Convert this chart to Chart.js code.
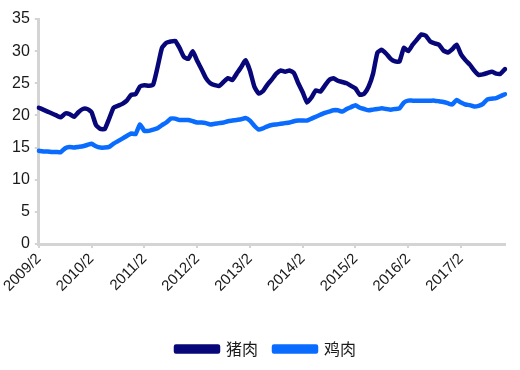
<!DOCTYPE html>
<html>
<head>
<meta charset="utf-8">
<script src="https://cdn.jsdelivr.net/npm/chart.js@4.4.1/dist/chart.umd.min.js"></script>
<style>
  html, body { margin: 0; padding: 0; background: #ffffff; }
  #wrap { width: 520px; height: 370px; }
</style>
</head>
<body>
<div id="wrap"><canvas id="c" width="520" height="370"></canvas></div>
<script>
// Monthly series, 2009/2 .. 2017/12
const startYear = 2009;
const startMonth = 2;
const categories = [];
for (let i = 0; i < 107; i++) {
  const m = startMonth - 1 + i;
  categories.push((startYear + Math.floor(m / 12)) + '/' + ((m % 12) + 1));
}
const tickLabels = ['2009/2','2010/2','2011/2','2012/2','2013/2','2014/2','2015/2','2016/2','2017/2'];

const seriesNames = ['猪肉', '鸡肉'];

const pork = [
  21.2, 20.9, 20.6, 20.3, 20.0, 19.7, 20.3, 20.2, 19.8, 20.5, 21.0, 21.0,
  20.5, 18.5, 17.9, 17.9, 19.5, 21.2, 21.5, 21.8, 22.3, 23.2, 23.3, 24.5,
  24.7, 24.6, 24.8, 27.5, 30.5, 31.3, 31.5, 31.6, 30.5, 29.1, 28.8, 30.0,
  28.5, 27.2, 25.8, 25.0, 24.7, 24.6, 25.2, 25.8, 25.5, 26.5, 27.5, 28.6,
  27.0, 24.5, 23.4, 23.8, 24.8, 25.6, 26.5, 27.0, 26.8, 27.0, 26.6, 25.0,
  23.6, 22.0, 22.8, 23.9, 23.7, 24.6, 25.5, 25.8, 25.4, 25.2, 25.0, 24.6,
  24.2, 23.2, 23.4, 24.5, 26.5, 29.8, 30.2, 29.6, 28.8, 28.4, 28.4, 30.5,
  30.0, 31.0, 31.8, 32.6, 32.4, 31.5, 31.2, 31.0, 30.1, 29.8, 30.3, 31.0,
  29.5, 28.6, 27.9, 27.0, 26.3, 26.4, 26.6, 26.8, 26.5, 26.5, 27.2
];

const chicken = [
  14.5, 14.4, 14.4, 14.3, 14.3, 14.3, 14.9, 15.1, 15.0, 15.1, 15.2, 15.4,
  15.6, 15.2, 15.0, 15.0, 15.1, 15.6, 16.0, 16.4, 16.8, 17.2, 17.1, 18.6,
  17.6, 17.6, 17.8, 18.0, 18.5, 18.9, 19.5, 19.5, 19.3, 19.3, 19.3, 19.1,
  18.9, 18.9, 18.8, 18.6, 18.7, 18.8, 18.9, 19.1, 19.2, 19.3, 19.4, 19.6,
  19.2, 18.4, 17.8, 18.0, 18.3, 18.5, 18.6, 18.7, 18.8, 18.9, 19.1, 19.2,
  19.2, 19.2, 19.5, 19.8, 20.1, 20.4, 20.6, 20.8, 20.8, 20.6, 21.0, 21.3,
  21.6, 21.2, 21.0, 20.8, 20.9, 21.0, 21.1, 21.0, 20.9, 21.0, 21.1, 22.0,
  22.3, 22.3, 22.3, 22.3, 22.3, 22.3, 22.3, 22.2, 22.1, 21.9, 21.7, 22.4,
  22.0, 21.7, 21.6, 21.4, 21.5, 21.8, 22.5, 22.6, 22.7, 23.0, 23.3
];

const porkColor = '#07077a';
const chickenColor = '#0a6cff';
const axisColor = '#d4d4d4';
const textColor = '#1a1a1a';

const legendShift = {
  id: 'legendShift',
  afterLayout(chart) {
    const lg = chart.legend;
    if (!lg) return;
    const dx = 10;
    lg.left += dx; lg.right += dx;
    if (lg.legendHitBoxes) lg.legendHitBoxes.forEach(h => { h.left += dx; });
  }
};

new Chart(document.getElementById('c'), {
  type: 'line',
  data: {
    labels: categories,
    datasets: [
      { label: seriesNames[0], data: pork, borderColor: porkColor, backgroundColor: porkColor,
        borderWidth: 4.5, pointRadius: 0, tension: 0.15, borderCapStyle: 'round', borderJoinStyle: 'round' },
      { label: seriesNames[1], data: chicken, borderColor: chickenColor, backgroundColor: chickenColor,
        borderWidth: 4.5, pointRadius: 0, tension: 0.15, borderCapStyle: 'round', borderJoinStyle: 'round' }
    ]
  },
  plugins: [legendShift],
  options: {
    responsive: false,
    animation: false,
    layout: { padding: { top: 19, right: 15, left: 7, bottom: 3 } },
    plugins: {
      tooltip: { enabled: false },
      legend: {
        position: 'bottom',
        labels: {
          boxWidth: 42, boxHeight: 5, padding: 16,
          color: textColor,
          font: { family: '"Noto Sans CJK SC", sans-serif', size: 16 }
        }
      }
    },
    scales: {
      x: {
        type: 'category',
        offset: false,
        border: { display: true, color: axisColor, width: 3 },
        grid: {
          drawOnChartArea: false, drawTicks: true, tickLength: 4, lineWidth: 2,
          color: (ctx) => (tickLabels.includes(categories[ctx.index]) ? axisColor : 'rgba(0,0,0,0)')
        },
        ticks: {
          autoSkip: false, maxRotation: 45, minRotation: 45, padding: 2,
          color: textColor,
          font: { family: '"Liberation Sans", Arial, sans-serif', size: 15 },
          callback: function (val, idx) {
            const lab = categories[idx];
            return tickLabels.includes(lab) ? lab : '';
          }
        },
        afterFit: function (scale) { scale.height = 81; }
      },
      y: {
        min: 0, max: 35,
        border: { display: true, color: axisColor, width: 3 },
        grid: { drawOnChartArea: false, drawTicks: true, tickLength: 4, lineWidth: 2, color: axisColor },
        ticks: {
          stepSize: 5, padding: 5,
          color: textColor,
          font: { family: '"Liberation Sans", Arial, sans-serif', size: 16 }
        }
      }
    }
  }
});
</script>
</body>
</html>
